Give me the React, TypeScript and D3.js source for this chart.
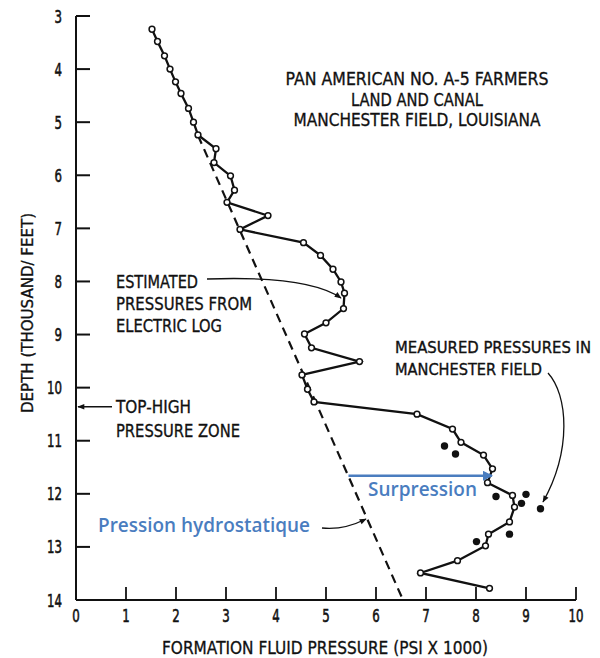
import React from "react";
import * as d3 from "d3";

// Estimated pressures from electric log: [pressure (psi x1000), depth (thousand ft)]
const estPressure = [1.52,1.63,1.77,1.88,1.99,2.10,2.25,2.35,2.44,2.80,2.76,3.09,3.17,3.02,3.84,3.28,4.55,4.89,5.14,5.30,5.37,5.35,5.00,4.57,4.71,5.67,4.52,4.63,4.76,6.82,7.53,7.70,8.15,8.33,8.23,8.73,8.77,8.67,8.25,8.19,7.63,6.89,8.27];
const estDepth = [3.25,3.48,3.75,4.00,4.24,4.46,4.74,5.00,5.24,5.50,5.76,6.01,6.28,6.51,6.76,7.02,7.27,7.51,7.77,8.01,8.22,8.51,8.78,8.99,9.25,9.51,9.76,10.03,10.27,10.50,10.78,11.03,11.27,11.53,11.79,12.03,12.25,12.53,12.76,12.98,13.26,13.49,13.78];

// Measured pressures in Manchester field
const measPressure = [7.37,7.59,8.40,9.00,8.91,9.29,8.67,8.01];
const measDepth = [11.10,11.25,12.05,12.01,12.18,12.28,12.76,12.90];

// Hydrostatic gradient line
const hydroPressure = [2.44,6.54];
const hydroDepth = [5.25,14.0];

const xTicks = [0,1,2,3,4,5,6,7,8,9,10];
const yTicks = [3,4,5,6,7,8,9,10,11,12,13,14];

const titleLines = ["PAN AMERICAN NO. A-5 FARMERS","LAND AND CANAL","MANCHESTER FIELD, LOUISIANA"];
const estLabel = ["ESTIMATED","PRESSURES FROM","ELECTRIC LOG"];
const topLabel = ["TOP-HIGH","PRESSURE ZONE"];
const measLabel = ["MEASURED PRESSURES IN","MANCHESTER FIELD"];
const topHighDepth = 10.36;
const surpressionDepth = 11.66;
const surpressionFrom = 5.45;
const surpressionTo = 8.32;

const W = 600, H = 658;
const x = d3.scaleLinear().domain([0,10]).range([76,576]);
const y = d3.scaleLinear().domain([3,14]).range([16,600]);

const FONT = "'DejaVu Sans', sans-serif";
const BLUE_FONT = "'Open Sans', 'Noto Sans', sans-serif";
const BLUE = "#4a7dbf";

type TP = { x: number; y: number; w: number; size?: number; anchor?: string; children: string; transform?: string; sw?: number };
function T({ x, y, w, size = 17, anchor = "start", children, transform, sw = 0.35 }: TP) {
  return (
    <text x={x} y={y} transform={transform} textAnchor={anchor} fontSize={size} fontFamily={FONT} fill="#111"
      stroke="#111" strokeWidth={sw} textLength={w} lengthAdjust="spacingAndGlyphs">{children}</text>
  );
}

export default function App() {
  const est = estPressure.map((p, i) => [p, estDepth[i]] as [number, number]);
  const line = d3.line<[number, number]>().x(d => x(d[0])).y(d => y(d[1]));
  const hydro = hydroPressure.map((p, i) => [p, hydroDepth[i]] as [number, number]);

  const titleW = [263, 132, 247];
  const estW = [82, 136, 106];
  const topW = [75, 124];
  const measW = [196, 147];

  return (
    <svg width={W} height={H} style={{ position: "absolute", left: 0, top: 0, background: "#fff" }}>
      <defs>
        <marker id="ah" viewBox="0 0 10 10" refX="9" refY="5" markerWidth="10" markerHeight="7" markerUnits="userSpaceOnUse" orient="auto">
          <path d="M0,1 L10,5 L0,9 z" fill="#111" />
        </marker>
        <marker id="ahb" viewBox="0 0 10 10" refX="9" refY="5" markerWidth="12" markerHeight="10" markerUnits="userSpaceOnUse" orient="auto">
          <path d="M0,0 L10,5 L0,10 z" fill={BLUE} />
        </marker>
      </defs>

      {/* axes */}
      <line x1={x(0)} x2={x(0)} y1={y(3)} y2={y(14)} stroke="#111" strokeWidth={2} />
      <line x1={x(0)} x2={x(10)} y1={y(14)} y2={y(14)} stroke="#111" strokeWidth={1.8} />
      {yTicks.map(t => (
        <g key={"y" + t}>
          {t < 14 && <line x1={x(0)} x2={x(0) + 14} y1={y(t)} y2={y(t)} stroke="#111" strokeWidth={2} />}
          <T x={62} y={y(t) + 6.5} w={String(t).length * 7.5} anchor="end" size={18.5} sw={0.6}>{String(t)}</T>
        </g>
      ))}
      {xTicks.map(t => (
        <g key={"x" + t}>
          {t > 0 && <line x1={x(t)} x2={x(t)} y1={y(14)} y2={y(14) - 13} stroke="#111" strokeWidth={1.8} />}
          <T x={x(t)} y={622} w={String(t).length * 7.5} anchor="middle" size={17.5} sw={0.6}>{String(t)}</T>
        </g>
      ))}

      <T x={0} y={0} transform="translate(33,313) rotate(-90)" w={200} anchor="middle" size={16}>DEPTH (THOUSAND/ FEET)</T>
      <T x={325} y={654} w={326} anchor="middle" size={18}>FORMATION FLUID PRESSURE (PSI X 1000)</T>

      {/* hydrostatic dashed line */}
      <path d={line(hydro) || ""} fill="none" stroke="#111" strokeWidth={2.2} strokeDasharray="9,6" />

      {/* estimated curve */}
      <path d={line(est) || ""} fill="none" stroke="#111" strokeWidth={2.3} />
      {est.map((d, i) => (
        <circle key={"e" + i} cx={x(d[0])} cy={y(d[1])} r={2.9} fill="#fff" stroke="#111" strokeWidth={1.5} />
      ))}

      {/* measured */}
      {measPressure.map((p, i) => (
        <circle key={"m" + i} cx={x(p)} cy={y(measDepth[i])} r={3.7} fill="#111" />
      ))}

      {/* title */}
      {titleLines.map((t, i) => (
        <T key={"t" + i} x={417} y={85 + i * 20.5} w={titleW[i]} anchor="middle" size={18}>{t}</T>
      ))}

      {/* estimated label */}
      {estLabel.map((t, i) => (
        <T key={"el" + i} x={116} y={288 + i * 22} w={estW[i]} size={17}>{t}</T>
      ))}
      <path d="M207,279 C262,277 315,280 341,298" fill="none" stroke="#111" strokeWidth={1.3} markerEnd="url(#ah)" />

      {/* top high pressure zone */}
      {topLabel.map((t, i) => (
        <T key={"tl" + i} x={116} y={413 + i * 23.5} w={topW[i]} size={17}>{t}</T>
      ))}
      <line x1={112} x2={x(0) + 2} y1={y(topHighDepth)} y2={y(topHighDepth)} stroke="#111" strokeWidth={1.3} markerEnd="url(#ah)" />

      {/* measured label */}
      {measLabel.map((t, i) => (
        <T key={"ml" + i} x={395} y={353 + i * 22} w={measW[i]} size={15}>{t}</T>
      ))}
      <path d="M548,373 C568,395 572,450 543,502" fill="none" stroke="#111" strokeWidth={1.3} markerEnd="url(#ah)" />

      {/* blue annotations */}
      <line x1={x(surpressionFrom)} x2={x(surpressionTo)} y1={y(surpressionDepth)} y2={y(surpressionDepth)} stroke={BLUE} strokeWidth={2.5} markerEnd="url(#ahb)" />
      <text x={368} y={496} fontSize={19} fontWeight={600} fontFamily={BLUE_FONT} fill={BLUE} textLength={109} lengthAdjust="spacingAndGlyphs">Surpression</text>
      <text x={98} y={532} fontSize={19} fontWeight={600} fontFamily={BLUE_FONT} fill={BLUE} textLength={212} lengthAdjust="spacingAndGlyphs">Pression hydrostatique</text>
      <path d="M322,528 C340,530 354,525 366,519" fill="none" stroke="#111" strokeWidth={1.3} markerEnd="url(#ah)" />
    </svg>
  );
}
